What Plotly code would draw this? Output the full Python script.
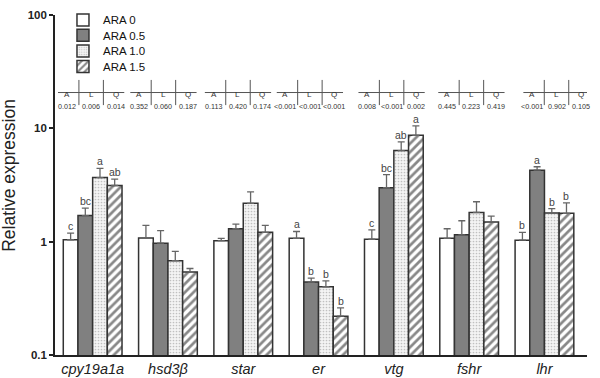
import math
import plotly.graph_objects as go

genes = ["cpy19a1a", "hsd3β", "star", "er", "vtg", "fshr", "lhr"]
series_names = ["ARA 0", "ARA 0.5", "ARA 1.0", "ARA 1.5"]

# mean relative expression
ara0 = [1.04, 1.08, 1.02, 1.07, 1.05, 1.07, 1.03]
ara05 = [1.70, 0.97, 1.30, 0.44, 2.99, 1.15, 4.27]
ara10 = [3.68, 0.68, 2.18, 0.40, 6.36, 1.81, 1.79]
ara15 = [3.13, 0.54, 1.21, 0.22, 8.67, 1.49, 1.78]

# upper end of error bars
ara0_hi = [1.19, 1.39, 1.07, 1.23, 1.27, 1.30, 1.21]
ara05_hi = [1.98, 1.25, 1.43, 0.476, 3.91, 1.53, 4.58]
ara10_hi = [4.44, 0.82, 2.75, 0.45, 7.60, 2.25, 1.96]
ara15_hi = [3.57, 0.58, 1.39, 0.26, 10.5, 1.68, 2.20]

# significance letters
let0 = ["c", "", "", "a", "c", "", "b"]
let05 = ["bc", "", "", "b", "bc", "", "a"]
let10 = ["a", "", "", "b", "ab", "", "b"]
let15 = ["ab", "", "", "b", "a", "", "b"]

# contrast p-values (A / L / Q)
p_A = ["0.012", "0.352", "0.113", "<0.001", "0.008", "0.445", "<0.001"]
p_L = ["0.006", "0.060", "0.420", "<0.001", "<0.001", "0.223", "0.902"]
p_Q = ["0.014", "0.187", "0.174", "<0.001", "0.002", "0.419", "0.105"]

means = [ara0, ara05, ara10, ara15]
highs = [ara0_hi, ara05_hi, ara10_hi, ara15_hi]
letters = [let0, let05, let10, let15]

x = list(range(len(genes)))
W = 0.195
OUT = "#333333"
FONT = "Liberation Sans"

styles = [
    dict(color="white", pattern=None),
    dict(color="#808080", pattern=None),
    dict(color="#f2f2f2", pattern=dict(shape=".", fgcolor="#8c8c8c", bgcolor="#f4f4f4", size=3, solidity=0.25)),
    dict(color="white", pattern=dict(shape="/", fgcolor="#111111", bgcolor="white", size=6, solidity=0.45)),
]
legend_ids = ["legend", "legend2", "legend3", "legend4"]

fig = go.Figure()
for k in range(4):
    err = [h - m for h, m in zip(highs[k], means[k])]
    marker = dict(color=styles[k]["color"], line=dict(color=OUT, width=1.5))
    if styles[k]["pattern"]:
        marker["pattern"] = styles[k]["pattern"]
    fig.add_trace(go.Bar(
        x=x, y=means[k], name=series_names[k], width=W, offset=-2 * W + k * W,
        marker=marker, legend=legend_ids[k],
        error_y=dict(type="data", array=err, arrayminus=[0] * len(err), symmetric=False,
                     color="#666666", thickness=1.3, width=3.5),
    ))

annotations = []
for k in range(4):
    for i, g in enumerate(genes):
        t = letters[k][i]
        if not t:
            continue
        annotations.append(dict(
            x=i - 1.5 * W + k * W, y=math.log10(highs[k][i]), xref="x", yref="y",
            text=t, showarrow=False, yanchor="bottom", yshift=-1,
            font=dict(family=FONT, size=10.5, color="#444444")))

# table of contrasts above groups
shift = [-0.02, -0.06, -0.07, -0.115, -0.03, 0.03, 0.16]
colw = 0.325
dy = 0.02
y_head, y_line, y_val, y_top, y_bot = 0.766 + dy, 0.752 + dy, 0.729 + dy, 0.789 + dy, 0.715 + dy
shapes = []
for i in range(len(genes)):
    c = i + shift[i]
    for j, (h, v) in enumerate(zip(["A", "L", "Q"], [p_A[i], p_L[i], p_Q[i]])):
        cx = c + (j - 1) * colw
        annotations.append(dict(x=cx, y=y_head, xref="x", yref="paper", text=h, showarrow=False,
                                font=dict(family=FONT, size=8, color="#333333")))
        annotations.append(dict(x=cx, y=y_val, xref="x", yref="paper", text=v, showarrow=False,
                                font=dict(family=FONT, size=7.2, color="#333333")))
    shapes.append(dict(type="line", xref="x", yref="paper", x0=c - 0.44, x1=c + 0.44,
                       y0=y_line, y1=y_line, line=dict(color="#555555", width=1)))
    for s in (-0.5, 0.5):
        xs = c + s * colw
        shapes.append(dict(type="line", xref="x", yref="paper", x0=xs, x1=xs,
                           y0=y_bot, y1=y_top, line=dict(color="#555555", width=1)))

# y-axis title as rotated annotation
annotations.append(dict(x=-0.0865, y=0.53, xref="paper", yref="paper", text="Relative expression",
                        textangle=-90, showarrow=False, xanchor="center", yanchor="middle",
                        font=dict(family=FONT, size=17.5, color="#222222")))

legend_y = [1.028, 0.983, 0.937, 0.891]
leg_common = dict(x=0.015, xanchor="left", yanchor="top", bgcolor="rgba(0,0,0,0)",
                  font=dict(size=11.5, family=FONT, color="#111111"), itemwidth=30)

fig.update_layout(
    width=600, height=378,
    margin=dict(l=55, r=13, t=5, b=23),
    paper_bgcolor="white", plot_bgcolor="white",
    barmode="overlay",
    font=dict(family=FONT, color="#222222"),
    showlegend=True,
    legend=dict(y=legend_y[0], **leg_common),
    legend2=dict(y=legend_y[1], **leg_common),
    legend3=dict(y=legend_y[2], **leg_common),
    legend4=dict(y=legend_y[3], **leg_common),
    annotations=annotations,
    shapes=shapes,
)
fig.update_xaxes(range=[-0.5, 6.565], tickvals=x, ticktext=["<i>%s</i>" % g for g in genes],
                 showline=True, linecolor="#222222", linewidth=1.6, ticks="",
                 tickfont=dict(size=14.5, family=FONT, color="#222222"),
                 showgrid=False, zeroline=False, automargin=False)
fig.update_yaxes(type="log", range=[-1, 2], tickvals=[0.1, 1, 10, 100],
                 ticktext=["<b>0.1</b>", "<b>1</b>", "<b>10</b>", "<b>100</b>"],
                 ticklabeloverflow="allow",
                 showline=True, linecolor="#222222", linewidth=1.6, ticks="outside",
                 ticklen=4, tickwidth=1.5, tickcolor="#222222",
                 tickfont=dict(size=11.5, family=FONT, color="#222222"),
                 showgrid=False, zeroline=False, automargin=False)

fig.write_html("out.html", config={"displayModeBar": False},
               post_script="document.body.style.margin='0px';document.body.style.overflow='hidden';")
